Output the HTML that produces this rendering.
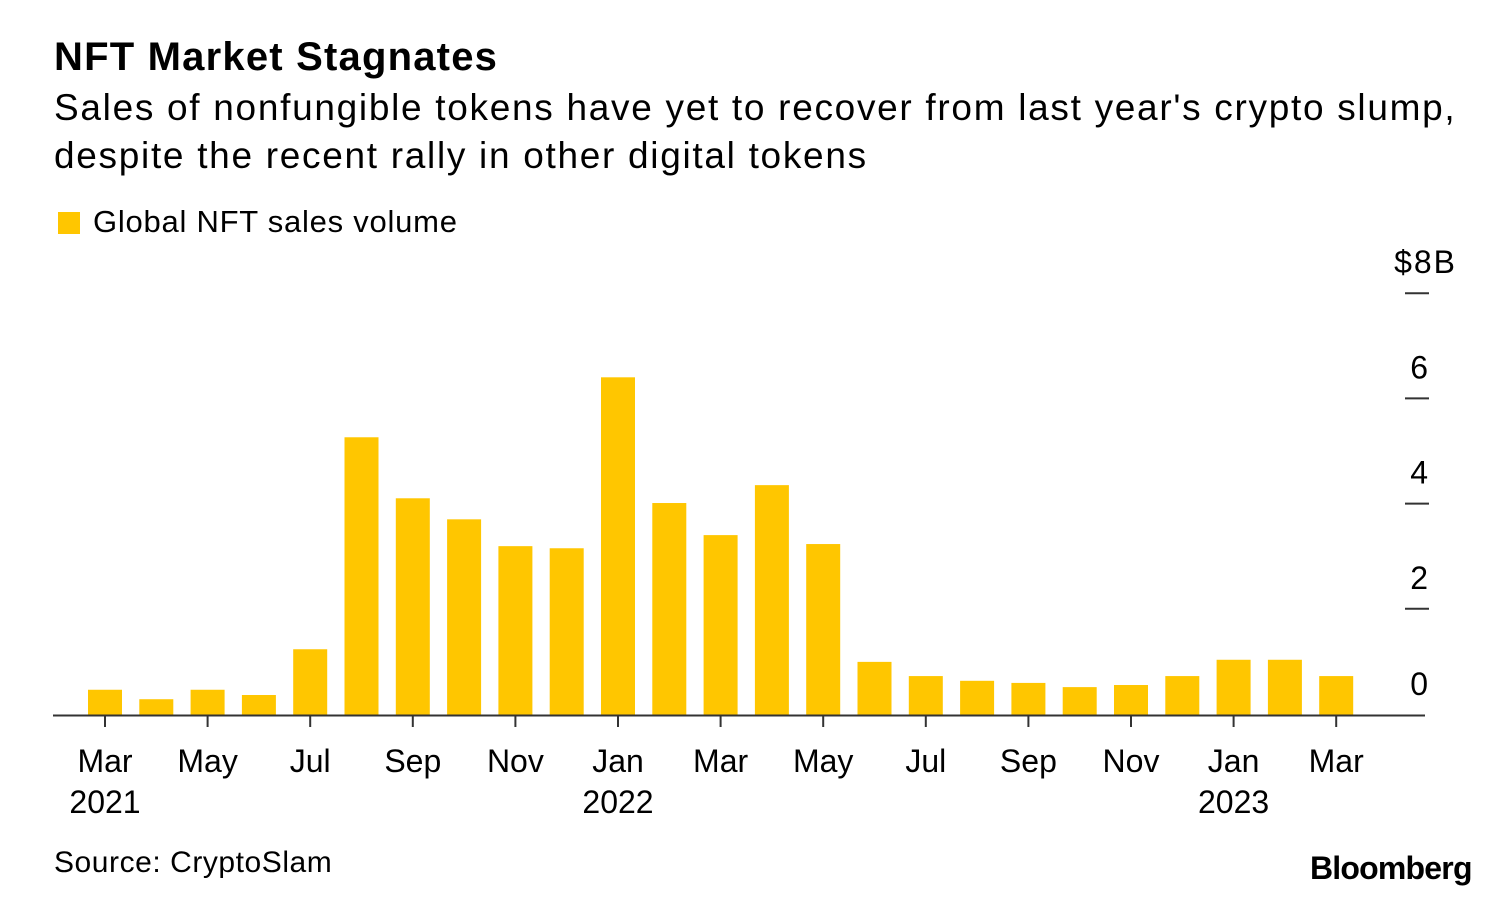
<!DOCTYPE html>
<html><head><meta charset="utf-8"><style>
body{margin:0;background:#fff;font-family:"Liberation Sans",sans-serif;color:#000;}
#wrap{position:relative;width:1495px;height:921px;overflow:hidden;}
.t{position:absolute;white-space:nowrap;}
</style></head><body>
<div id="wrap">
<div class="t" style="left:54px;top:35px;font-size:40px;font-weight:bold;letter-spacing:1.2px">NFT Market Stagnates</div>
<div class="t" style="left:54px;top:84px;font-size:37px;line-height:48px;letter-spacing:1.7px">Sales of nonfungible tokens have yet to recover from last year's crypto slump,<br>despite the recent rally in other digital tokens</div>
<div style="position:absolute;left:58px;top:212px;width:22px;height:22px;background:#ffc600"></div>
<div class="t" style="left:93px;top:204px;font-size:31px;letter-spacing:0.75px">Global NFT sales volume</div>
<svg id="chart" width="1495" height="921" style="position:absolute;left:0;top:0"></svg>
<div class="t" style="left:54px;top:846px;font-size:30px;letter-spacing:0.55px">Source: CryptoSlam</div>
<div class="t" style="left:1310px;top:850px;font-size:32px;font-weight:bold;letter-spacing:-0.8px">Bloomberg</div>
</div>
<script>
const values=[0.48,0.30,0.48,0.38,1.25,5.28,4.12,3.72,3.21,3.17,6.42,4.03,3.42,4.37,3.25,1.01,0.74,0.65,0.61,0.53,0.57,0.74,1.05,1.05,0.74];
const monthLabels=["Mar","","May","","Jul","","Sep","","Nov","","Jan","","Mar","","May","","Jul","","Sep","","Nov","","Jan","","Mar"];
const yearLabels={0:"2021",10:"2022",22:"2023"};
const yTicks=[0,2,4,6,8];
const NS="http://www.w3.org/2000/svg";
const svg=document.getElementById('chart');
const y0=715,pxPer=52.6,x0=105,step=51.3,bw=34;
const y=v=>y0-v*pxPer, x=i=>x0+i*step;
function mk(tag,attrs){const e=document.createElementNS(NS,tag);for(const k in attrs)e.setAttribute(k,attrs[k]);svg.appendChild(e);return e;}
values.forEach((v,i)=>{
 const r=mk('rect',{x:x(i)-bw/2,y:y(v),width:bw,height:y0-y(v),fill:'#ffc600'});
 
 
});
const ax=mk('line',{x1:53,x2:1425,y1:y0+0.5,y2:y0+0.5,stroke:'#333','stroke-width':2});


monthLabels.forEach((m,i)=>{
 if(!m)return;
 const tk=mk('line',{x1:x(i),x2:x(i),y1:y0,y2:y0+12,stroke:'#333','stroke-width':2});
 
 
 const t=mk('text',{x:x(i),y:772,'text-anchor':'middle','font-size':32,'font-family':'Liberation Sans, sans-serif'});
 t.textContent=m;
 
 
 if(yearLabels[i]){
  const yt=mk('text',{x:x(i),y:813,'text-anchor':'middle','font-size':32,'font-family':'Liberation Sans, sans-serif'});
  yt.textContent=yearLabels[i];
  
  
 }
});
yTicks.forEach(v=>{
 const ty=y(v)-(v===0?0:1);
 if(v!==0){
  const l=mk('line',{x1:1405,x2:1429,y1:ty,y2:ty,stroke:'#333','stroke-width':2});
  
  
 }
 const t=mk('text',{x:v===8?1457:1428,y:ty-20,'text-anchor':'end','font-size':32,'letter-spacing':v===8?2:0,'font-family':'Liberation Sans, sans-serif'});
 t.textContent=v===8?'$8B':String(v);
 
 
});
</script>
</body></html>
